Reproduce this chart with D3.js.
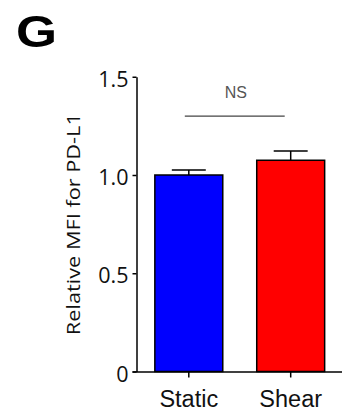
<!DOCTYPE html>
<html>
<head>
<meta charset="utf-8">
<script src="https://cdn.jsdelivr.net/npm/d3@7"></script>
<style>
  html, body { margin: 0; padding: 0; background: #fff; }
  svg { display: block; }
</style>
</head>
<body>
<svg id="chart" width="343" height="414"></svg>
<script>
// Relative PD-L1 MFI, static vs shear culture (mean + SEM)
const categories = ["Static", "Shear"];
const means = [1.0, 1.075];
const sems = [0.025, 0.047];
const barColors = ["#0000ff", "#ff0000"];
const yTicks = [0, 0.5, 1.0, 1.5];
const yTickLabels = ["0", "0.5", "1.0", "1.5"];
const panelLetter = "G";
const yTitle = "Relative MFI for PD-L1";
const sigLabel = "NS";

const svg = d3.select("#chart");

const y = d3.scaleLinear().domain([0, 1.5]).range([371.5, 76.75]);
const x = d3.scaleBand().domain(categories).range([136.5, 343])
  .paddingInner(1 / 3).paddingOuter(0.18);
const axisX = 136.5;

// Panel letter
svg.append("text")
  .attr("transform", "translate(16,46.5) scale(1.2,1)")
  .attr("font-family", "Liberation Sans, Arial, sans-serif")
  .attr("font-weight", "bold")
  .attr("font-size", 44)
  .attr("fill", "#000")
  .text(panelLetter);

// Bars
svg.append("g").selectAll("rect")
  .data(categories)
  .join("rect")
  .attr("x", d => x(d))
  .attr("y", (d, i) => y(means[i]))
  .attr("width", x.bandwidth())
  .attr("height", (d, i) => y(0) - y(means[i]))
  .attr("fill", (d, i) => barColors[i])
  .attr("stroke", "#000")
  .attr("stroke-width", 1.5);

// Error bars (upper only)
const capHalf = x.bandwidth() / 4;
const err = svg.append("g").attr("stroke", "#000").attr("stroke-width", 1.5);
categories.forEach((c, i) => {
  const cx = x(c) + x.bandwidth() / 2;
  err.append("line")
    .attr("x1", cx).attr("x2", cx)
    .attr("y1", y(means[i])).attr("y2", y(means[i] + sems[i]));
  err.append("line")
    .attr("x1", cx - capHalf).attr("x2", cx + capHalf)
    .attr("y1", y(means[i] + sems[i])).attr("y2", y(means[i] + sems[i]));
});

// Y axis
const yAxis = svg.append("g")
  .attr("transform", `translate(${axisX},0)`)
  .call(d3.axisLeft(y).tickValues(yTicks)
    .tickFormat((d, i) => yTickLabels[i])
    .tickSize(4).tickSizeOuter(0).tickPadding(4));
yAxis.select(".domain").attr("stroke", "#000").attr("stroke-width", 1.5);
yAxis.selectAll(".tick line").attr("stroke", "#000").attr("stroke-width", 1.5);
yAxis.selectAll(".tick text")
  .attr("font-family", "Open Sans, sans-serif")
  .attr("font-size", 21.5)
  .attr("fill", "#111")
  .attr("dy", "0.45em");

// X axis
const xAxis = svg.append("g")
  .attr("transform", `translate(0,${y(0)})`)
  .call(d3.axisBottom(x).tickSize(6).tickSizeOuter(0).tickPadding(0));
xAxis.select(".domain")
  .attr("d", `M${axisX - 4},0.5H342`)
  .attr("stroke", "#000").attr("stroke-width", 1.5);
xAxis.selectAll(".tick line").attr("stroke", "#000").attr("stroke-width", 1.5);
xAxis.selectAll(".tick text")
  .attr("font-family", "Liberation Sans, Arial, sans-serif")
  .attr("font-size", 23.5)
  .attr("fill", "#111")
  .attr("y", 35)
  .attr("dy", 0);

// Y axis title
svg.append("text")
  .attr("transform", `translate(80,${(y(0) + y(1.5)) / 2}) rotate(-90)`)
  .attr("text-anchor", "middle")
  .attr("font-family", "Open Sans, sans-serif")
  .attr("font-size", 18)
  .attr("fill", "#111")
  .attr("textLength", 222)
  .attr("lengthAdjust", "spacingAndGlyphs")
  .text(yTitle);

// Significance bracket
const x0 = x(categories[0]) + x.bandwidth() / 2;
const x1 = x(categories[1]) + x.bandwidth() / 2;
svg.append("line")
  .attr("x1", x0 - 4).attr("x2", x1 - 6)
  .attr("y1", y(1.3)).attr("y2", y(1.3))
  .attr("stroke", "#444").attr("stroke-width", 1.3);
svg.append("text")
  .attr("x", (x0 + x1) / 2 - 4)
  .attr("y", y(1.3) - 18)
  .attr("text-anchor", "middle")
  .attr("font-family", "Liberation Sans, Arial, sans-serif")
  .attr("font-size", 16)
  .attr("fill", "#555")
  .text(sigLabel);
</script>
</body>
</html>
